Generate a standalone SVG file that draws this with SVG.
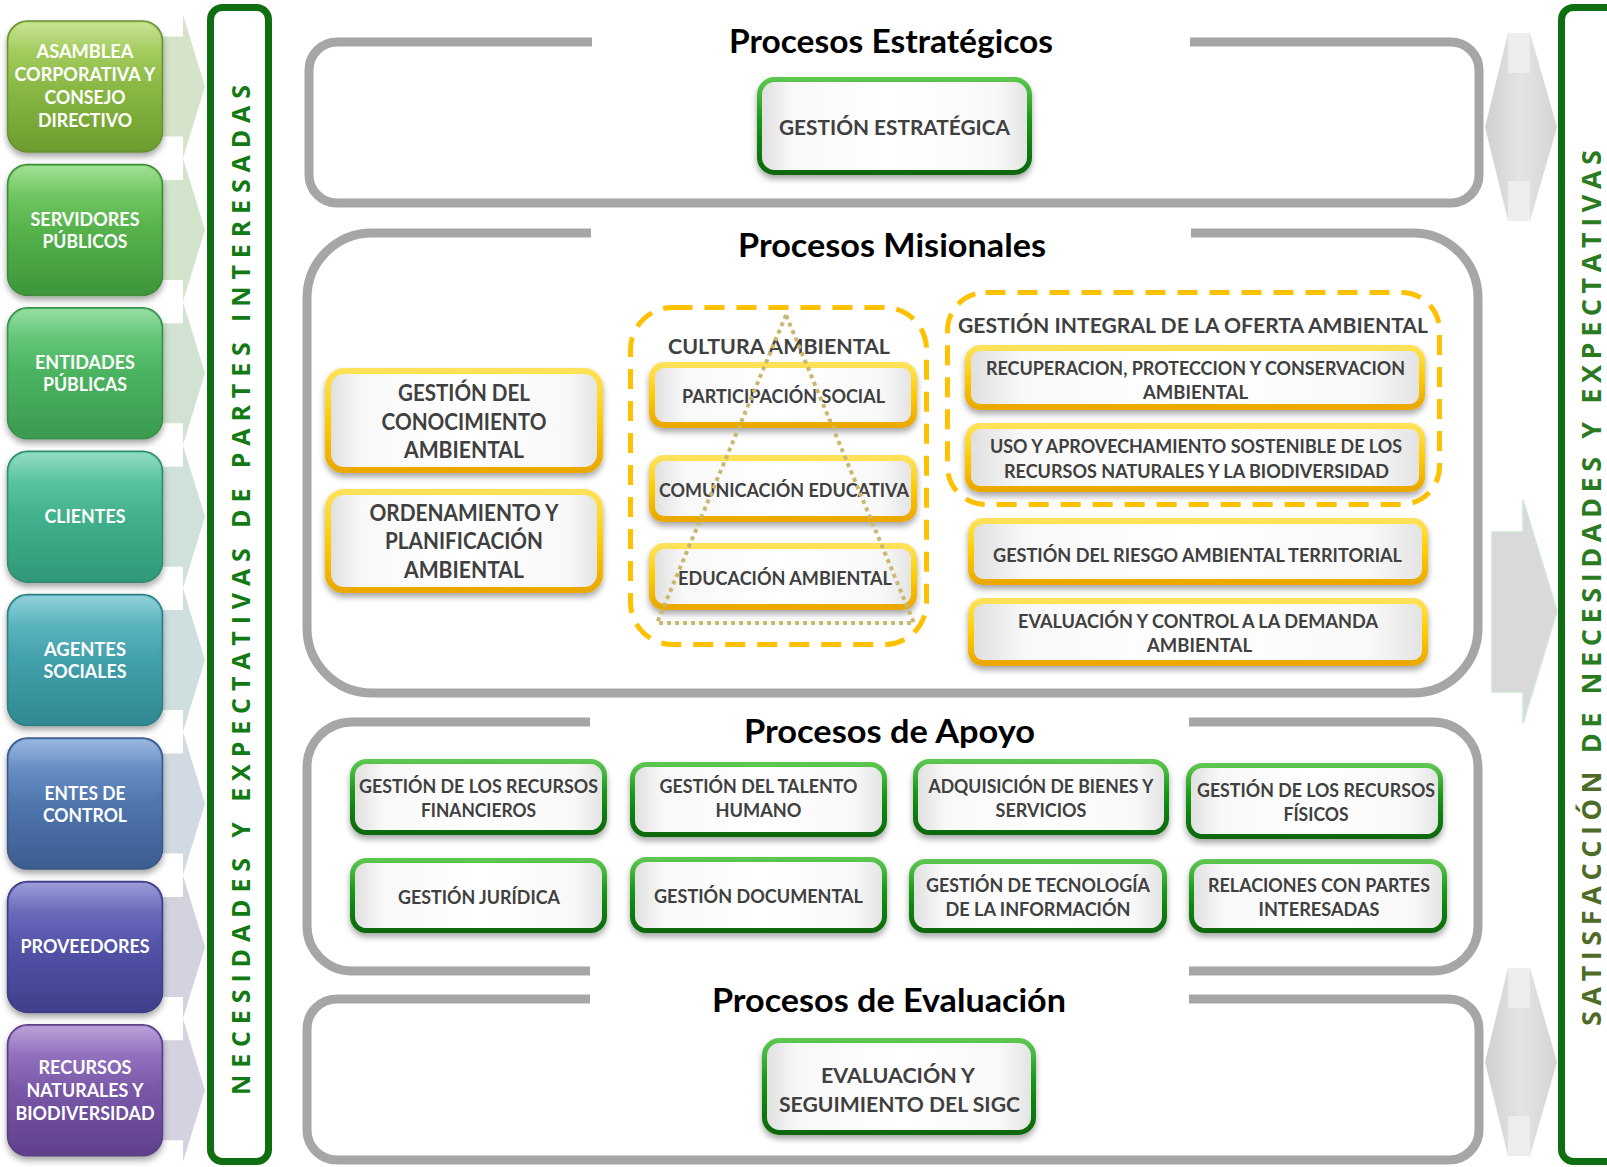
<svg xmlns="http://www.w3.org/2000/svg" width="1607" height="1167" viewBox="0 0 1607 1167">
<style>
.st{font-family:Lato,"Open Sans","Liberation Sans",sans-serif;font-weight:bold;fill:#fff;font-size:18px;text-anchor:middle}
.bt{font-family:Lato,"Open Sans","Liberation Sans",sans-serif;font-weight:bold;fill:#404040;text-anchor:middle}
.tt{font-family:Lato,"Open Sans","Liberation Sans",sans-serif;font-weight:bold;fill:#000;font-size:33px;text-anchor:middle}
.vt{font-family:"Open Sans","DejaVu Sans",sans-serif;font-weight:bold}
.panel{fill:none;stroke:#a6a6a6;stroke-width:9}
.gbox{fill:url(#wf);stroke:url(#gs);stroke-width:5;filter:url(#sh)}
.ybox{fill:url(#wf);stroke:url(#ys);stroke-width:6;filter:url(#sh)}
.dash{fill:none;stroke:#ffc000;stroke-width:5;stroke-dasharray:20 12}
.sbox{stroke-width:1.5;filter:url(#sh)}
.gloss{fill:url(#gl)}
</style>
<defs>
<filter id="sh" x="-10%" y="-15%" width="120%" height="145%"><feDropShadow dx="0" dy="4" stdDeviation="3" flood-color="#000" flood-opacity="0.35"/></filter>
<linearGradient id="wf" x1="0" y1="0" x2="1" y2="0"><stop offset="0" stop-color="#dedede"/><stop offset="0.12" stop-color="#f8f8f8"/><stop offset="0.5" stop-color="#ffffff"/><stop offset="0.88" stop-color="#f8f8f8"/><stop offset="1" stop-color="#e2e2e2"/></linearGradient>
<linearGradient id="gs" x1="0" y1="0" x2="0" y2="1"><stop offset="0" stop-color="#5cc64f"/><stop offset="0.45" stop-color="#159615"/><stop offset="1" stop-color="#086808"/></linearGradient>
<linearGradient id="ys" x1="0" y1="0" x2="0" y2="1"><stop offset="0" stop-color="#ffe25a"/><stop offset="0.5" stop-color="#ffcc00"/><stop offset="1" stop-color="#eaa800"/></linearGradient>
<linearGradient id="gl" x1="0" y1="0" x2="0" y2="1"><stop offset="0" stop-color="#fff" stop-opacity="0.35"/><stop offset="0.45" stop-color="#fff" stop-opacity="0.08"/><stop offset="1" stop-color="#fff" stop-opacity="0"/></linearGradient>
<linearGradient id="ag" x1="0" y1="0" x2="1" y2="0"><stop offset="0" stop-color="#d0d0d0"/><stop offset="0.5" stop-color="#e4e4e4"/><stop offset="1" stop-color="#d4d4d4"/></linearGradient>
<linearGradient id="c1" x1="0" y1="0" x2="0" y2="1"><stop offset="0" stop-color="#a9d45a"/><stop offset="1" stop-color="#6c9c2e"/></linearGradient>
<linearGradient id="c2" x1="0" y1="0" x2="0" y2="1"><stop offset="0" stop-color="#6fce5c"/><stop offset="1" stop-color="#3c963a"/></linearGradient>
<linearGradient id="c3" x1="0" y1="0" x2="0" y2="1"><stop offset="0" stop-color="#5ccc72"/><stop offset="1" stop-color="#399a4e"/></linearGradient>
<linearGradient id="c4" x1="0" y1="0" x2="0" y2="1"><stop offset="0" stop-color="#55c9a0"/><stop offset="1" stop-color="#2f9878"/></linearGradient>
<linearGradient id="c5" x1="0" y1="0" x2="0" y2="1"><stop offset="0" stop-color="#55b8c4"/><stop offset="1" stop-color="#2f8890"/></linearGradient>
<linearGradient id="c6" x1="0" y1="0" x2="0" y2="1"><stop offset="0" stop-color="#6290cc"/><stop offset="1" stop-color="#3c5c90"/></linearGradient>
<linearGradient id="c7" x1="0" y1="0" x2="0" y2="1"><stop offset="0" stop-color="#6666c2"/><stop offset="1" stop-color="#3f3f8c"/></linearGradient>
<linearGradient id="c8" x1="0" y1="0" x2="0" y2="1"><stop offset="0" stop-color="#9470c4"/><stop offset="1" stop-color="#5e3f8c"/></linearGradient>
</defs>
<rect width="1607" height="1167" fill="#fff"/>

<!-- connectors: arrows -->
<g id="connectors">
  <path d="M140 36.5H183V15L205 86.5L183 158V136.5H140Z" fill="#d6e3cb"/>
  <path d="M140 179.9H183V158.4L205 229.9L183 301.4V279.9H140Z" fill="#d3e4cd"/>
  <path d="M140 323.3H183V301.8L205 373.3L183 444.8V423.3H140Z" fill="#d1e2d3"/>
  <path d="M140 466.7H183V445.2L205 516.7L183 588.2V566.7H140Z" fill="#cfe1da"/>
  <path d="M140 610.1H183V588.6L205 660.1L183 731.6V710.1H140Z" fill="#cfdfe0"/>
  <path d="M140 753.5H183V732L205 803.5L183 875V853.5H140Z" fill="#d1d9e3"/>
  <path d="M140 896.9H183V875.4L205 946.9L183 1018.4V996.9H140Z" fill="#d3d3e0"/>
  <path d="M140 1040.3H183V1018.8L205 1090.3L183 1161.8V1140.3H140Z" fill="#d6d1e0"/>
  <rect x="1508" y="33" width="22" height="188" fill="#ededed"/>
  <path d="M1485 127L1508 33V73H1530V33L1557 127L1530 221V181H1508V221Z" fill="url(#ag)"/>
  <rect x="1508" y="968" width="22" height="188" fill="#ededed"/>
  <path d="M1485 1062L1508 968V1008H1530V968L1557 1062L1530 1156V1116H1508V1156Z" fill="url(#ag)"/>
  <path d="M1492 532H1523V500L1557 611L1523 723V692H1492Z" fill="#d9d9d9" stroke="#cfe6d3" stroke-width="1.5"/>
</g>

<!-- stakeholder nodes -->
<g id="asamblea"><rect class="sbox" x="7.5" y="21" width="155" height="131" rx="20" fill="url(#c1)" stroke="#6a8f35"/><rect class="gloss" x="9" y="22.5" width="152" height="64" rx="19"/>
<text class="st" x="85" y="58" textLength="97" lengthAdjust="spacingAndGlyphs">ASAMBLEA</text><text class="st" x="85" y="81" textLength="141" lengthAdjust="spacingAndGlyphs">CORPORATIVA Y</text><text class="st" x="85" y="104" textLength="81" lengthAdjust="spacingAndGlyphs">CONSEJO</text><text class="st" x="85" y="127" textLength="94" lengthAdjust="spacingAndGlyphs">DIRECTIVO</text></g>
<g id="servidores"><rect class="sbox" x="7.5" y="164.4" width="155" height="131" rx="20" fill="url(#c2)" stroke="#3f8a3a"/><rect class="gloss" x="9" y="166" width="152" height="64" rx="19"/>
<text class="st" x="85" y="226" textLength="109" lengthAdjust="spacingAndGlyphs">SERVIDORES</text><text class="st" x="85" y="248" textLength="85" lengthAdjust="spacingAndGlyphs">PÚBLICOS</text></g>
<g id="entidades"><rect class="sbox" x="7.5" y="307.8" width="155" height="131" rx="20" fill="url(#c3)" stroke="#3c8c4e"/><rect class="gloss" x="9" y="309.3" width="152" height="64" rx="19"/>
<text class="st" x="85" y="369.3" textLength="100" lengthAdjust="spacingAndGlyphs">ENTIDADES</text><text class="st" x="85" y="391.3" textLength="84" lengthAdjust="spacingAndGlyphs">PÚBLICAS</text></g>
<g id="clientes"><rect class="sbox" x="7.5" y="451.2" width="155" height="131" rx="20" fill="url(#c4)" stroke="#318a70"/><rect class="gloss" x="9" y="452.7" width="152" height="64" rx="19"/>
<text class="st" x="85" y="523.2" textLength="81" lengthAdjust="spacingAndGlyphs">CLIENTES</text></g>
<g id="agentes"><rect class="sbox" x="7.5" y="594.6" width="155" height="131" rx="20" fill="url(#c5)" stroke="#317c84"/><rect class="gloss" x="9" y="596.1" width="152" height="64" rx="19"/>
<text class="st" x="85" y="656.1" textLength="82" lengthAdjust="spacingAndGlyphs">AGENTES</text><text class="st" x="85" y="678.1" textLength="83" lengthAdjust="spacingAndGlyphs">SOCIALES</text></g>
<g id="entes"><rect class="sbox" x="7.5" y="738" width="155" height="131" rx="20" fill="url(#c6)" stroke="#3d5884"/><rect class="gloss" x="9" y="739.5" width="152" height="64" rx="19"/>
<text class="st" x="85" y="799.5" textLength="81" lengthAdjust="spacingAndGlyphs">ENTES DE</text><text class="st" x="85" y="821.5" textLength="84" lengthAdjust="spacingAndGlyphs">CONTROL</text></g>
<g id="proveedores"><rect class="sbox" x="7.5" y="881.4" width="155" height="131" rx="20" fill="url(#c7)" stroke="#3f3f80"/><rect class="gloss" x="9" y="882.9" width="152" height="64" rx="19"/>
<text class="st" x="85" y="953.4" textLength="129" lengthAdjust="spacingAndGlyphs">PROVEEDORES</text></g>
<g id="recursos"><rect class="sbox" x="7.5" y="1024.8" width="155" height="131" rx="20" fill="url(#c8)" stroke="#5a3f80"/><rect class="gloss" x="9" y="1026.3" width="152" height="64" rx="19"/>
<text class="st" x="85" y="1074" textLength="93" lengthAdjust="spacingAndGlyphs">RECURSOS</text><text class="st" x="85" y="1097" textLength="117" lengthAdjust="spacingAndGlyphs">NATURALES Y</text><text class="st" x="85" y="1119.5" textLength="139" lengthAdjust="spacingAndGlyphs">BIODIVERSIDAD</text></g>

<!-- left frame -->
<g id="frame-left"><rect x="210.5" y="7.5" width="58" height="1154" rx="12" fill="#fff" stroke="#0f6e0f" stroke-width="7"/>
<text class="vt" transform="translate(250 1095) rotate(-90)" font-size="25" fill="#127a12" textLength="1010" lengthAdjust="spacing">NECESIDADES Y EXPECTATIVAS DE PARTES INTERESADAS</text></g>

<!-- right frame -->
<g id="frame-right"><rect x="1561.5" y="7.5" width="80" height="1154" rx="12" fill="#fff" stroke="#0f6e0f" stroke-width="7"/>
<text class="vt" transform="translate(1601 1026) rotate(-90)" font-size="27" textLength="876" lengthAdjust="spacing"><tspan fill="#4f6b28">SATISFACCIÓN</tspan><tspan fill="#2a7a22"> DE NECESIDADES Y EXPECTATIVAS</tspan></text></g>

<!-- panels -->
<g id="panel-estrategicos"><rect class="panel" x="309" y="42" width="1170" height="161" rx="28"/><rect x="592" y="30" width="598" height="24" fill="#fff"/>
<text class="tt" x="891" y="53" textLength="324" lengthAdjust="spacingAndGlyphs">Procesos Estratégicos</text></g>
<g id="panel-misionales"><rect class="panel" x="307" y="233" width="1171" height="460" rx="65"/><rect x="591" y="222" width="600" height="24" fill="#fff"/>
<text class="tt" x="892" y="257" textLength="308" lengthAdjust="spacingAndGlyphs">Procesos Misionales</text></g>
<g id="panel-apoyo"><rect class="panel" x="307" y="722" width="1171" height="249" rx="45"/><rect x="590" y="711" width="599" height="24" fill="#fff"/>
<text class="tt" x="889.5" y="743" textLength="291" lengthAdjust="spacingAndGlyphs">Procesos de Apoyo</text></g>
<g id="panel-evaluacion"><rect class="panel" x="307" y="999" width="1172" height="161" rx="30"/><rect x="590" y="960" width="599" height="46" fill="#fff"/>
<text class="tt" x="889" y="1012" textLength="354" lengthAdjust="spacingAndGlyphs">Procesos de Evaluación</text></g>

<!-- estrategicos -->
<g id="gestion-estrategica"><rect class="gbox" x="759.5" y="79.5" width="270" height="93" rx="15"/>
<text class="bt" x="894.5" y="135" font-size="20" textLength="231" lengthAdjust="spacingAndGlyphs">GESTIÓN ESTRATÉGICA</text></g>

<!-- misionales -->
<g id="conocimiento"><rect class="ybox" x="328" y="371" width="272" height="99" rx="16"/>
<text class="bt" x="464" y="401" font-size="22" textLength="132" lengthAdjust="spacingAndGlyphs">GESTIÓN DEL</text><text class="bt" x="464" y="430" font-size="22" textLength="165" lengthAdjust="spacingAndGlyphs">CONOCIMIENTO</text><text class="bt" x="464" y="458" font-size="22" textLength="120" lengthAdjust="spacingAndGlyphs">AMBIENTAL</text></g>
<g id="ordenamiento"><rect class="ybox" x="328" y="492" width="272" height="98" rx="16"/>
<text class="bt" x="464" y="521" font-size="22" textLength="189" lengthAdjust="spacingAndGlyphs">ORDENAMIENTO Y</text><text class="bt" x="464" y="549" font-size="22" textLength="158" lengthAdjust="spacingAndGlyphs">PLANIFICACIÓN</text><text class="bt" x="464" y="578" font-size="22" textLength="120" lengthAdjust="spacingAndGlyphs">AMBIENTAL</text></g>

<g id="cultura-ambiental"><rect class="dash" x="630.5" y="307.5" width="296" height="337" rx="42"/>
<text class="bt" x="779" y="354" font-size="20" textLength="222" lengthAdjust="spacingAndGlyphs">CULTURA AMBIENTAL</text></g>
<g id="participacion"><rect class="ybox" x="652" y="365" width="262" height="60" rx="12"/>
<text class="bt" x="783.5" y="403" font-size="18.5" textLength="203" lengthAdjust="spacingAndGlyphs">PARTICIPACIÓN SOCIAL</text></g>
<g id="comunicacion"><rect class="ybox" x="652" y="458" width="262" height="61" rx="12"/>
<text class="bt" x="784" y="497" font-size="18.5" textLength="250" lengthAdjust="spacingAndGlyphs">COMUNICACIÓN EDUCATIVA</text></g>
<g id="educacion"><rect class="ybox" x="652" y="546" width="262" height="61" rx="12"/>
<text class="bt" x="785" y="585" font-size="18.5" textLength="214" lengthAdjust="spacingAndGlyphs">EDUCACIÓN AMBIENTAL</text></g>
<g id="triangulo"><path d="M786 315L657 623H914Z" fill="none" stroke="#c9b870" stroke-width="4" stroke-dasharray="4 4" stroke-linejoin="round"/></g>

<g id="oferta-ambiental"><rect class="dash" x="947.5" y="292.5" width="492" height="212" rx="38"/>
<text class="bt" x="1193" y="333" font-size="20.5" textLength="470" lengthAdjust="spacingAndGlyphs">GESTIÓN INTEGRAL DE LA OFERTA AMBIENTAL</text></g>
<g id="recuperacion"><rect class="ybox" x="968" y="348" width="454" height="59" rx="12"/>
<text class="bt" x="1195.5" y="375" font-size="19" textLength="419" lengthAdjust="spacingAndGlyphs">RECUPERACION, PROTECCION Y CONSERVACION</text><text class="bt" x="1195.5" y="399" font-size="19" textLength="105" lengthAdjust="spacingAndGlyphs">AMBIENTAL</text></g>
<g id="uso"><rect class="ybox" x="968" y="426" width="454" height="63" rx="12"/>
<text class="bt" x="1196" y="453" font-size="19" textLength="412" lengthAdjust="spacingAndGlyphs">USO Y APROVECHAMIENTO SOSTENIBLE DE LOS</text><text class="bt" x="1196.5" y="478" font-size="19" textLength="385" lengthAdjust="spacingAndGlyphs">RECURSOS NATURALES Y LA BIODIVERSIDAD</text></g>
<g id="riesgo"><rect class="ybox" x="971" y="521" width="454" height="61" rx="12"/>
<text class="bt" x="1197.5" y="562" font-size="19" textLength="409" lengthAdjust="spacingAndGlyphs">GESTIÓN DEL RIESGO AMBIENTAL TERRITORIAL</text></g>
<g id="evaluacion-control"><rect class="ybox" x="971" y="601" width="454" height="62" rx="12"/>
<text class="bt" x="1198" y="628" font-size="19" textLength="360" lengthAdjust="spacingAndGlyphs">EVALUACIÓN Y CONTROL A LA DEMANDA</text><text class="bt" x="1199.5" y="652" font-size="19" textLength="105" lengthAdjust="spacingAndGlyphs">AMBIENTAL</text></g>

<!-- apoyo -->
<g id="financieros"><rect class="gbox" x="352.5" y="761.5" width="252" height="71" rx="14"/>
<text class="bt" x="478.5" y="793" font-size="18.5" textLength="239" lengthAdjust="spacingAndGlyphs">GESTIÓN DE LOS RECURSOS</text><text class="bt" x="478.5" y="817" font-size="18.5" textLength="115" lengthAdjust="spacingAndGlyphs">FINANCIEROS</text></g>
<g id="talento"><rect class="gbox" x="632.5" y="764.5" width="252" height="70" rx="14"/>
<text class="bt" x="758.5" y="793" font-size="18.5" textLength="198" lengthAdjust="spacingAndGlyphs">GESTIÓN DEL TALENTO</text><text class="bt" x="758.5" y="817" font-size="18.5" textLength="86" lengthAdjust="spacingAndGlyphs">HUMANO</text></g>
<g id="adquisicion"><rect class="gbox" x="915.5" y="761.5" width="251" height="71" rx="14"/>
<text class="bt" x="1041" y="793" font-size="18.5" textLength="225" lengthAdjust="spacingAndGlyphs">ADQUISICIÓN DE BIENES Y</text><text class="bt" x="1041" y="817" font-size="18.5" textLength="91" lengthAdjust="spacingAndGlyphs">SERVICIOS</text></g>
<g id="fisicos"><rect class="gbox" x="1188.5" y="765.5" width="252" height="71" rx="14"/>
<text class="bt" x="1316" y="797" font-size="18.5" textLength="238" lengthAdjust="spacingAndGlyphs">GESTIÓN DE LOS RECURSOS</text><text class="bt" x="1316" y="821" font-size="18.5" textLength="65" lengthAdjust="spacingAndGlyphs">FÍSICOS</text></g>
<g id="juridica"><rect class="gbox" x="352.5" y="860.5" width="252" height="70" rx="14"/>
<text class="bt" x="479" y="904" font-size="18.5" textLength="162" lengthAdjust="spacingAndGlyphs">GESTIÓN JURÍDICA</text></g>
<g id="documental"><rect class="gbox" x="632.5" y="859.5" width="252" height="71" rx="14"/>
<text class="bt" x="758.5" y="903" font-size="18.5" textLength="209" lengthAdjust="spacingAndGlyphs">GESTIÓN DOCUMENTAL</text></g>
<g id="tecnologia"><rect class="gbox" x="911.5" y="861.5" width="253" height="69" rx="14"/>
<text class="bt" x="1038" y="892" font-size="18.5" textLength="224" lengthAdjust="spacingAndGlyphs">GESTIÓN DE TECNOLOGÍA</text><text class="bt" x="1038" y="916" font-size="18.5" textLength="185" lengthAdjust="spacingAndGlyphs">DE LA INFORMACIÓN</text></g>
<g id="relaciones"><rect class="gbox" x="1191.5" y="861.5" width="253" height="69" rx="14"/>
<text class="bt" x="1319" y="892" font-size="18.5" textLength="222" lengthAdjust="spacingAndGlyphs">RELACIONES CON PARTES</text><text class="bt" x="1319" y="916" font-size="18.5" textLength="121" lengthAdjust="spacingAndGlyphs">INTERESADAS</text></g>

<!-- evaluacion -->
<g id="seguimiento"><rect class="gbox" x="764.5" y="1040.5" width="269" height="92" rx="15"/>
<text class="bt" x="898" y="1083" font-size="20.5" textLength="154" lengthAdjust="spacingAndGlyphs">EVALUACIÓN Y</text><text class="bt" x="899.5" y="1112" font-size="20.5" textLength="241" lengthAdjust="spacingAndGlyphs">SEGUIMIENTO DEL SIGC</text></g>
</svg>
